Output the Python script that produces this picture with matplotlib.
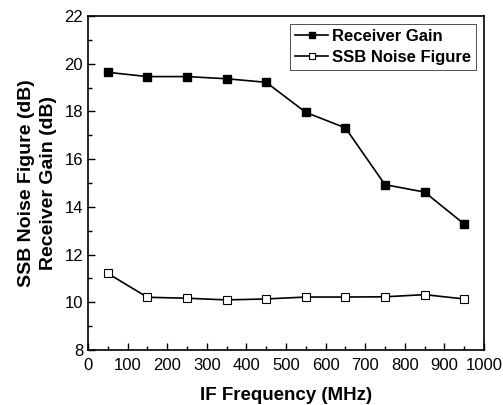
import matplotlib
matplotlib.use('Agg')
import matplotlib.pyplot as plt
from matplotlib.ticker import MultipleLocator

plt.rcParams['font.family'] = 'Liberation Sans'

# IF frequency in MHz
freq = [50, 150, 250, 350, 450, 550, 650, 750, 850, 950]
gain = [19.64, 19.46, 19.46, 19.37, 19.22, 17.96, 17.31, 14.93, 14.62, 13.28]
nf = [11.21, 10.21, 10.17, 10.10, 10.14, 10.22, 10.22, 10.23, 10.32, 10.14]

fig = plt.figure(figsize=(5.03, 4.05), dpi=100)
ax = fig.add_axes([88/503, 1 - 350/405, (484-88)/503, (350-16)/405])

ax.plot(freq, gain, color='black', lw=1.2, marker='s', ms=5.5,
        mfc='black', mec='black', label='Receiver Gain')
ax.plot(freq, nf, color='black', lw=1.2, marker='s', ms=5.5,
        mfc='white', mec='black', mew=0.8, label='SSB Noise Figure')

ax.set_xlim(0, 1000)
ax.set_ylim(8, 22)
ax.xaxis.set_major_locator(MultipleLocator(100))
ax.xaxis.set_minor_locator(MultipleLocator(50))
ax.yaxis.set_major_locator(MultipleLocator(2))
ax.yaxis.set_minor_locator(MultipleLocator(1))
ax.tick_params(which='both', direction='in', top=False, right=False, labelsize=12)
ax.tick_params(which='major', length=5, width=1)
ax.tick_params(which='minor', length=3, width=1)
ax.tick_params(axis='x', pad=6)
for s in ax.spines.values():
    s.set_linewidth(1.2)

ax.set_xlabel('IF Frequency (MHz)', fontsize=13.5, fontweight='bold', labelpad=10)
ax.set_ylabel('SSB Noise Figure (dB)\nReceiver Gain (dB)', fontsize=14,
              fontweight='bold', labelpad=5, linespacing=1.45)

leg = ax.legend(loc='upper right', prop={'weight': 'bold', 'size': 12},
                frameon=True, fancybox=False, edgecolor='black',
                handlelength=2.0, handletextpad=0.2, borderpad=0.3,
                labelspacing=0.35, markerscale=0.7, borderaxespad=0.5)
leg.get_frame().set_linewidth(0.6)

fig.savefig('out.png', dpi=100)
